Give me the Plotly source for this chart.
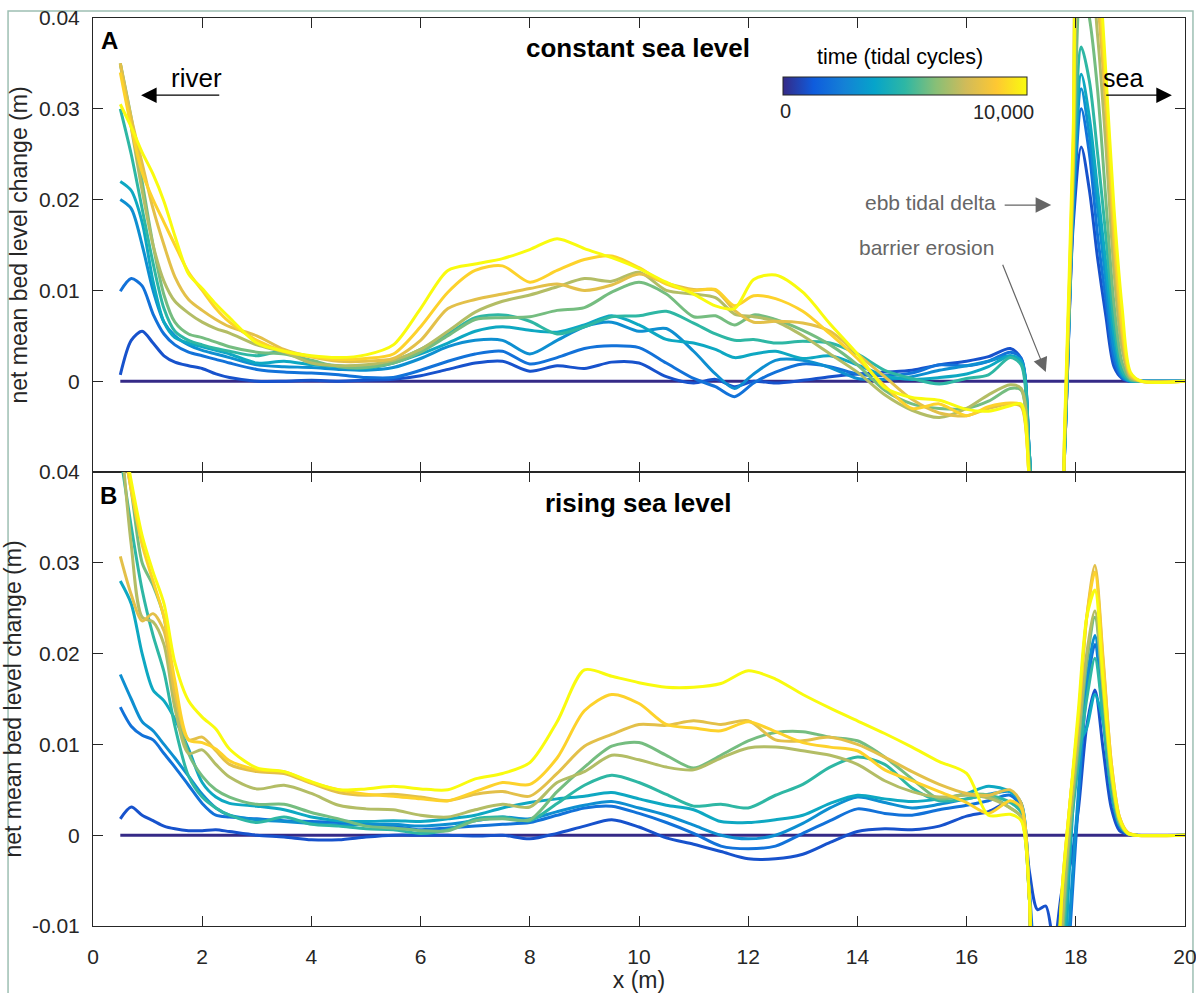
import plotly.graph_objects as go

# ---------------- data ----------------
x_a = [0.5, 0.7, 0.9, 1.1, 1.3, 1.5, 1.75, 2.0, 2.25, 2.5,
       3.0, 3.5, 4.0, 4.5, 5.0, 5.5, 6.0, 6.5, 7.0, 7.5,
       8.0, 8.5, 9.0, 9.5, 10.0, 10.5, 11.0, 11.4, 11.75, 12.1,
       12.5, 13.0, 13.5, 14.0, 14.5, 15.0, 15.5, 16.0, 16.4, 16.8,
       17.0, 17.15, 17.4, 17.6, 17.8, 17.95, 18.1, 18.25, 18.4, 18.55,
       18.7, 18.85, 19.0, 19.2, 20.0]

a1 = [0.0007, 0.0045, 0.0055, 0.0042, 0.0028, 0.0021, 0.0017, 0.0014, 0.0008, 0.0004,
      0.0000, 0.0000, 0.0001, 0.0000, 0.0001, 0.0002, 0.0006, 0.0013, 0.0020, 0.0022,
      0.0011, 0.0017, 0.0014, 0.0021, 0.0020, 0.0005, -0.0002, 0.0002, -0.0006, 0.0000,
      -0.0002, 0.0001, 0.0005, 0.0008, 0.0010, 0.0012, 0.0018, 0.0022, 0.0027, 0.0036,
      0.0025, -0.008, -0.03, -0.03, -0.007, 0.017, 0.0258, 0.021, 0.0135, 0.0072,
      0.0016, 0.0003, 0.0, 0.0, 0.0]
a2 = [0.0099, 0.0113, 0.0105, 0.0074, 0.0052, 0.0040, 0.0032, 0.0028, 0.0024, 0.0020,
      0.0013, 0.0010, 0.0009, 0.0007, 0.0004, 0.0004, 0.0012, 0.0022, 0.0030, 0.0033,
      0.0019, 0.0026, 0.0036, 0.0039, 0.0037, 0.0020, 0.0003, -0.0006, -0.0017, -0.0002,
      0.0010, 0.0019, 0.0016, 0.0008, 0.0006, 0.0009, 0.0018, 0.0017, 0.0022, 0.0032,
      0.0025, -0.008, -0.03, -0.03, -0.007, 0.018, 0.0300, 0.025, 0.016, 0.009,
      0.0025, 0.0004, 0.0, 0.0, 0.0]
a3 = [0.0200, 0.0190, 0.0150, 0.0100, 0.0065, 0.0050, 0.0040, 0.0034, 0.0030, 0.0026,
      0.0018, 0.0016, 0.0015, 0.0013, 0.0012, 0.0015, 0.0025, 0.0038, 0.0045, 0.0045,
      0.0030, 0.0045, 0.0060, 0.0065, 0.0055, 0.0058, 0.0033, 0.0008, -0.0008, 0.0008,
      0.0023, 0.0023, 0.0015, 0.0003, 0.0002, 0.0005, 0.0012, 0.0017, 0.0022, 0.0028,
      0.0022, -0.008, -0.03, -0.03, -0.007, 0.019, 0.0322, 0.027, 0.019, 0.011,
      0.0035, 0.0006, 0.0, 0.0, 0.0]
a4 = [0.0220, 0.0210, 0.0175, 0.0110, 0.0065, 0.0048, 0.0042, 0.0038, 0.0034, 0.0030,
      0.0020, 0.0022, 0.0018, 0.0016, 0.0014, 0.0020, 0.0030, 0.0042, 0.0055, 0.0060,
      0.0056, 0.0054, 0.0062, 0.0072, 0.0062, 0.0046, 0.0042, 0.0035, 0.0026, 0.0030,
      0.0033, 0.0025, 0.0028, 0.0018, 0.0006, 0.0002, 0.0004, 0.0008, 0.0016, 0.0028,
      0.0022, -0.008, -0.03, -0.03, -0.007, 0.020, 0.0338, 0.029, 0.021, 0.013,
      0.005, 0.0008, 0.0, 0.0, 0.0]
a5 = [0.0300, 0.0250, 0.0190, 0.0130, 0.0080, 0.0055, 0.0045, 0.0040, 0.0036, 0.0033,
      0.0028, 0.0033, 0.0020, 0.0017, 0.0015, 0.0022, 0.0035, 0.0052, 0.0070, 0.0073,
      0.0066, 0.0052, 0.0060, 0.0071, 0.0072, 0.0077, 0.0064, 0.0052, 0.0045, 0.0046,
      0.0042, 0.0044, 0.0042, 0.0030, 0.0012, 0.0003, -0.0003, 0.0003, 0.0007, 0.0026,
      0.0018, -0.008, -0.03, -0.03, -0.007, 0.021, 0.0368, 0.033, 0.025, 0.016,
      0.0065, 0.0012, 0.0001, 0.0, 0.0]
a6 = [0.0350, 0.0290, 0.0220, 0.0150, 0.0095, 0.0065, 0.0052, 0.0048, 0.0043, 0.0038,
      0.0032, 0.0030, 0.0023, 0.0016, 0.0015, 0.0020, 0.0032, 0.0050, 0.0068, 0.0070,
      0.0071, 0.0078, 0.0081, 0.0098, 0.0109, 0.0096, 0.0071, 0.0072, 0.0062, 0.0073,
      0.0068, 0.0056, 0.0040, 0.0018, -0.0010, -0.0025, -0.0030, -0.0030, -0.0022, -0.0008,
      -0.0010, -0.010, -0.03, -0.03, -0.006, 0.022, 0.044, 0.040, 0.032, 0.020,
      0.0085, 0.002, 0.0002, 0.0, 0.0]
a7 = [0.0350, 0.0280, 0.0210, 0.0150, 0.0110, 0.0088, 0.0075, 0.0065, 0.0058, 0.0053,
      0.0040, 0.0032, 0.0020, 0.0017, 0.0018, 0.0023, 0.0035, 0.0055, 0.0076, 0.0088,
      0.0095, 0.0104, 0.0113, 0.0110, 0.0120, 0.0100, 0.0096, 0.0092, 0.0074, 0.0071,
      0.0066, 0.0050, 0.0030, 0.0010, -0.0015, -0.0032, -0.0040, -0.0030, -0.0015, -0.0004,
      -0.0008, -0.010, -0.03, -0.03, -0.006, 0.023, 0.047, 0.046, 0.038, 0.026,
      0.012, 0.0035, 0.0004, 0.0, 0.0]
a8 = [0.0350, 0.0290, 0.0240, 0.0190, 0.0150, 0.0115, 0.0090, 0.0078, 0.0068, 0.0060,
      0.0050, 0.0035, 0.0027, 0.0022, 0.0022, 0.0025, 0.0045, 0.0080, 0.0090, 0.0096,
      0.0102, 0.0107, 0.0100, 0.0106, 0.0118, 0.0108, 0.0101, 0.0100, 0.0078, 0.0065,
      0.0066, 0.0064, 0.0055, 0.0030, 0.0005, -0.0020, -0.0035, -0.0038, -0.0030, -0.0025,
      -0.0028, -0.011, -0.03, -0.03, -0.005, 0.024, 0.050, 0.050, 0.042, 0.030,
      0.015, 0.005, 0.0006, 0.0, 0.0]
a9 = [0.0340, 0.0280, 0.0230, 0.0200, 0.0175, 0.0150, 0.0120, 0.0100, 0.0080, 0.0065,
      0.0045, 0.0033, 0.0027, 0.0024, 0.0025, 0.0030, 0.0060, 0.0098, 0.0122, 0.0127,
      0.0109, 0.0122, 0.0134, 0.0138, 0.0125, 0.0107, 0.0100, 0.0101, 0.0083, 0.0094,
      0.0091, 0.0077, 0.0052, 0.0025, -0.0005, -0.0030, -0.0025, -0.0038, -0.0028, -0.0024,
      -0.0026, -0.011, -0.03, -0.03, -0.005, 0.025, 0.052, 0.053, 0.045, 0.032,
      0.017, 0.006, 0.0008, 0.0, 0.0]
a10 = [0.0305, 0.0280, 0.0252, 0.0228, 0.0198, 0.0160, 0.0118, 0.0102, 0.0085, 0.0070,
       0.0042, 0.0033, 0.0028, 0.0026, 0.0029, 0.0040, 0.0080, 0.0122, 0.0129, 0.0135,
       0.0145, 0.0157, 0.0146, 0.0136, 0.0124, 0.0109, 0.0096, 0.0083, 0.0080, 0.0112,
       0.0117, 0.0098, 0.0063, 0.0030, -0.0007, -0.0018, -0.0021, -0.0031, -0.0033, -0.0027,
       -0.0025, -0.011, -0.03, -0.03, -0.004, 0.027, 0.055, 0.056, 0.048, 0.034,
       0.019, 0.008, 0.001, 0.0, 0.0]

x_b = [0.5, 0.7, 0.9, 1.1, 1.3, 1.5, 1.75, 2.0, 2.25, 2.5,
       3.0, 3.5, 4.0, 4.5, 5.0, 5.5, 6.0, 6.5, 7.0, 7.5,
       8.0, 8.5, 9.0, 9.5, 10.0, 10.5, 11.0, 11.5, 12.0, 12.5,
       13.0, 13.5, 14.0, 14.5, 15.0, 15.5, 16.0, 16.4, 16.8, 17.0,
       17.15, 17.3, 17.45, 17.6, 17.75, 17.9, 18.05, 18.2, 18.35, 18.5,
       18.65, 18.8, 18.95, 19.1, 20.0]

b1 = [0.0018, 0.0031, 0.0022, 0.0016, 0.0010, 0.0007, 0.0005, 0.0005, 0.0006, 0.0004,
      0.0000, -0.0002, -0.0005, -0.0005, -0.0002, 0.0000, 0.0000, 0.0000, -0.0001, 0.0000,
      -0.0004, 0.0002, 0.0010, 0.0017, 0.0009, -0.0003, -0.0010, -0.0018, -0.0026, -0.0026,
      -0.0021, -0.0008, 0.0004, 0.0007, 0.0006, 0.0010, 0.0021, 0.0026, 0.0037, 0.0030,
      -0.0040, -0.0082, -0.0078, -0.0120, -0.0060, -0.0032, 0.0030, 0.0120, 0.0160, 0.0095,
      0.0030, 0.0005, 0.0001, 0.0, 0.0]
b2 = [0.0141, 0.0120, 0.0110, 0.0105, 0.0090, 0.0075, 0.0055, 0.0035, 0.0022, 0.0020,
      0.0018, 0.0016, 0.0015, 0.0014, 0.0012, 0.0010, 0.0006, 0.0008, 0.0010, 0.0012,
      0.0014, 0.0022, 0.0030, 0.0032, 0.0024, 0.0014, 0.0002, -0.0012, -0.0015, -0.0012,
      0.0002, 0.0016, 0.0029, 0.0024, 0.0022, 0.0028, 0.0033, 0.0038, 0.0044, 0.0030,
      -0.0060, -0.0200, -0.0300, -0.0300, -0.0250, -0.0100, 0.0040, 0.0160, 0.0210, 0.0130,
      0.0045, 0.0010, 0.0002, 0.0, 0.0]
b3 = [0.0177, 0.0150, 0.0125, 0.0115, 0.0100, 0.0085, 0.0065, 0.0045, 0.0030, 0.0022,
      0.0017, 0.0015, 0.0013, 0.0011, 0.0012, 0.0012, 0.0010, 0.0012, 0.0016, 0.0020,
      0.0018, 0.0026, 0.0033, 0.0037, 0.0030, 0.0022, 0.0011, 0.0000, -0.0004, 0.0000,
      0.0013, 0.0030, 0.0042, 0.0036, 0.0030, 0.0034, 0.0040, 0.0045, 0.0048, 0.0035,
      -0.0070, -0.0300, -0.0300, -0.0300, -0.0250, -0.0080, 0.0050, 0.0170, 0.0220, 0.0140,
      0.0050, 0.0011, 0.0002, 0.0, 0.0]
b4 = [0.0280, 0.0255, 0.0200, 0.0160, 0.0148, 0.0128, 0.0095, 0.0058, 0.0042, 0.0035,
      0.0032, 0.0028, 0.0020, 0.0016, 0.0015, 0.0016, 0.0015, 0.0018, 0.0022, 0.0030,
      0.0036, 0.0040, 0.0043, 0.0047, 0.0040, 0.0033, 0.0028, 0.0015, 0.0014, 0.0017,
      0.0022, 0.0035, 0.0044, 0.0040, 0.0037, 0.0040, 0.0046, 0.0054, 0.0048, 0.0035,
      -0.0070, -0.0300, -0.0300, -0.0300, -0.0200, -0.0020, 0.0098, 0.0118, 0.0155, 0.0125,
      0.0050, 0.0012, 0.0002, 0.0, 0.0]
b5 = [0.0420, 0.0340, 0.0270, 0.0220, 0.0180, 0.0120, 0.0065, 0.0042, 0.0030, 0.0022,
      0.0014, 0.0020, 0.0012, 0.0010, 0.0007, 0.0006, 0.0002, 0.0006, 0.0018, 0.0020,
      0.0016, 0.0035, 0.0055, 0.0066, 0.0058, 0.0045, 0.0032, 0.0034, 0.0030, 0.0044,
      0.0056, 0.0075, 0.0086, 0.0078, 0.0052, 0.0038, 0.0040, 0.0044, 0.0036, 0.0025,
      -0.0070, -0.0300, -0.0300, -0.0300, -0.0150, 0.0000, 0.0080, 0.0150, 0.0195, 0.0130,
      0.0050, 0.0012, 0.0002, 0.0, 0.0]
b6 = [0.0450, 0.0380, 0.0300, 0.0275, 0.0240, 0.0150, 0.0090, 0.0065, 0.0050, 0.0042,
      0.0034, 0.0034, 0.0025, 0.0018, 0.0010, 0.0008, 0.0005, 0.0005, 0.0016, 0.0018,
      0.0017, 0.0048, 0.0075, 0.0098, 0.0102, 0.0088, 0.0074, 0.0088, 0.0104, 0.0113,
      0.0114, 0.0108, 0.0104, 0.0086, 0.0062, 0.0040, 0.0045, 0.0044, 0.0030, 0.0020,
      -0.0070, -0.0300, -0.0300, -0.0300, -0.0120, 0.0010, 0.0100, 0.0190, 0.0240, 0.0160,
      0.0065, 0.0015, 0.0002, 0.0, 0.0]
b7 = [0.0450, 0.0320, 0.0240, 0.0235, 0.0210, 0.0140, 0.0090, 0.0094, 0.0078, 0.0064,
      0.0051, 0.0055, 0.0046, 0.0033, 0.0029, 0.0028, 0.0022, 0.0020, 0.0028, 0.0034,
      0.0031, 0.0058, 0.0070, 0.0088, 0.0083, 0.0075, 0.0072, 0.0085, 0.0096, 0.0097,
      0.0093, 0.0088, 0.0078, 0.0060, 0.0048, 0.0042, 0.0044, 0.0041, 0.0030, 0.0020,
      -0.0070, -0.0300, -0.0300, -0.0300, -0.0100, 0.0020, 0.0110, 0.0200, 0.0247, 0.0160,
      0.0065, 0.0015, 0.0002, 0.0, 0.0]
b8 = [0.0307, 0.0265, 0.0236, 0.0244, 0.0225, 0.0155, 0.0105, 0.0108, 0.0093, 0.0078,
      0.0070, 0.0068, 0.0057, 0.0047, 0.0044, 0.0045, 0.0042, 0.0038, 0.0045, 0.0048,
      0.0043, 0.0068, 0.0098, 0.0111, 0.0122, 0.0121, 0.0126, 0.0122, 0.0126, 0.0105,
      0.0104, 0.0108, 0.0100, 0.0086, 0.0070, 0.0056, 0.0046, 0.0044, 0.0050, 0.0035,
      -0.0070, -0.0300, -0.0300, -0.0250, -0.0060, 0.0040, 0.0130, 0.0240, 0.0297, 0.0195,
      0.0080, 0.0020, 0.0003, 0.0, 0.0]
b9 = [0.0450, 0.0380, 0.0320, 0.0280, 0.0240, 0.0170, 0.0105, 0.0102, 0.0095, 0.0082,
      0.0072, 0.0070, 0.0058, 0.0050, 0.0045, 0.0043, 0.0040, 0.0038, 0.0048, 0.0058,
      0.0056, 0.0085, 0.0137, 0.0155, 0.0145, 0.0122, 0.0118, 0.0115, 0.0125, 0.0114,
      0.0102, 0.0097, 0.0093, 0.0072, 0.0060, 0.0048, 0.0036, 0.0024, 0.0038, 0.0030,
      -0.0070, -0.0300, -0.0300, -0.0250, -0.0060, 0.0040, 0.0130, 0.0240, 0.0290, 0.0190,
      0.0080, 0.0020, 0.0003, 0.0, 0.0]
b10 = [0.0460, 0.0390, 0.0330, 0.0290, 0.0255, 0.0190, 0.0148, 0.0130, 0.0117, 0.0095,
       0.0074, 0.0070, 0.0059, 0.0050, 0.0051, 0.0054, 0.0051, 0.0050, 0.0062, 0.0068,
       0.0080, 0.0125, 0.0182, 0.0175, 0.0168, 0.0163, 0.0163, 0.0167, 0.0181, 0.0172,
       0.0155, 0.0140, 0.0126, 0.0112, 0.0097, 0.0081, 0.0068, 0.0022, 0.0023, 0.0016,
       -0.0070, -0.0300, -0.0300, -0.0200, -0.0060, 0.0040, 0.0140, 0.0240, 0.0270, 0.0170,
       0.0072, 0.0018, 0.0002, 0.0, 0.0]

times = [1000, 2000, 3000, 4000, 5000, 6000, 7000, 8000, 9000, 10000]
curves_a = [a1, a2, a3, a4, a5, a6, a7, a8, a9, a10]
curves_b = [b1, b2, b3, b4, b5, b6, b7, b8, b9, b10]
baseline_x = [0.5, 20.0]
baseline_y = [0.0, 0.0]

x_ticks = [0, 2, 4, 6, 8, 10, 12, 14, 16, 18, 20]
ya_ticks = [0, 0.01, 0.02, 0.03, 0.04]
ya_text = ["0", "0.01", "0.02", "0.03", "0.04"]
yb_ticks = [-0.01, 0, 0.01, 0.02, 0.03, 0.04]
yb_text = ["-0.01", "0", "0.01", "0.02", "0.03", "0.04"]

for c in curves_a:
    assert len(c) == len(x_a)
for c in curves_b:
    assert len(c) == len(x_b)

# ---------------- style ----------------
parula_hex = ['#352a87', '#0f5cdd', '#1481d6', '#06a4ca', '#2eb7a4',
              '#87bf77', '#d1bb59', '#fec832', '#f9fb0e']
n = len(parula_hex)
parula_scale = [[i / (n - 1), c] for i, c in enumerate(parula_hex)]


def hex2rgb(h):
    h = h.lstrip('#')
    return [int(h[i:i + 2], 16) for i in (0, 2, 4)]


def parula(t):
    t = min(max(t, 0.0), 1.0)
    pos = t * (n - 1)
    i = min(int(pos), n - 2)
    f = pos - i
    c0, c1 = hex2rgb(parula_hex[i]), hex2rgb(parula_hex[i + 1])
    c = [round(c0[k] + (c1[k] - c0[k]) * f) for k in range(3)]
    return 'rgb(%d,%d,%d)' % tuple(c)


FONT = "Arial, Liberation Sans, Helvetica, sans-serif"
INK = '#262626'
LW = 3.0

fig = go.Figure()

for (xr, yr, curves) in [('x', 'y', curves_a), ('x2', 'y2', curves_b)]:
    xs = x_a if xr == 'x' else x_b
    fig.add_trace(go.Scatter(x=baseline_x, y=baseline_y, xaxis=xr, yaxis=yr, mode='lines',
                             line=dict(color=parula(0), width=LW), showlegend=False,
                             hoverinfo='skip'))
    for t, ys in zip(times, curves):
        fig.add_trace(go.Scatter(x=xs, y=ys, xaxis=xr, yaxis=yr, mode='lines',
                                 line=dict(color=parula(t / 10000), width=LW,
                                           shape='spline', smoothing=0.8),
                                 showlegend=False, hoverinfo='skip'))

# colorbar carrier (hidden marker outside range)
fig.add_trace(go.Scatter(
    x=[-5, -5], y=[0, 0], xaxis='x', yaxis='y', mode='markers',
    marker=dict(color=[0, 10000], colorscale=parula_scale, cmin=0, cmax=10000,
                size=1, opacity=0, showscale=True,
                colorbar=dict(orientation='h', x=0.6319, xanchor='left',
                              y=0.9141, yanchor='bottom', len=244, lenmode='pixels',
                              thickness=18, thicknessmode='pixels',
                              outlinecolor=INK, outlinewidth=1,
                              showticklabels=False, ticks='', xpad=0, ypad=0)),
    showlegend=False, hoverinfo='skip'))

axis_common = dict(showgrid=False, zeroline=False, showline=True, linecolor=INK,
                   linewidth=1, mirror='ticks', ticks='inside', ticklen=10,
                   tickcolor=INK, tickwidth=1, automargin=False,
                   ticklabeloverflow='allow',
                   tickfont=dict(family=FONT, size=21, color=INK))

fig.update_layout(
    width=1196, height=993, autosize=False,
    margin=dict(l=93, r=11, t=18, b=67, pad=0, autoexpand=False),
    paper_bgcolor='white', plot_bgcolor='white',
    xaxis=dict(domain=[0, 1], anchor='y', range=[0, 20], tickvals=x_ticks,
               showticklabels=False, **axis_common),
    yaxis=dict(domain=[0.5, 1], anchor='x', range=[-0.01, 0.04], tickvals=ya_ticks,
               ticktext=ya_text, ticklabelstandoff=8,
               title=dict(text='net mean bed level change (m)', standoff=4,
                          font=dict(family=FONT, size=23, color=INK)),
               **axis_common),
    xaxis2=dict(domain=[0, 1], anchor='y2', range=[0, 20], tickvals=x_ticks,
                ticktext=[str(v) for v in x_ticks], ticklabelstandoff=12,
                title=dict(text='x (m)', standoff=8,
                           font=dict(family=FONT, size=23, color=INK)),
                **axis_common),
    yaxis2=dict(domain=[0, 0.5], anchor='x2', range=[-0.01, 0.04], tickvals=yb_ticks,
                ticktext=yb_text, ticklabelstandoff=8,
                title=dict(text='net mean bed level change (m)', standoff=4,
                           font=dict(family=FONT, size=23, color=INK)),
                **axis_common),
)

ann = []


def txt(x, y, s, size, color='black', bold=False, xref='x', yref='y'):
    ann.append(dict(x=x, y=y, xref=xref, yref=yref, text=('<b>%s</b>' % s) if bold else s,
                    showarrow=False, xanchor='center', yanchor='middle',
                    font=dict(family=FONT, size=size, color=color)))


def arrow(x0, y0, x1, y1, color, width, size, head=2, xref='x', yref='y'):
    ann.append(dict(x=x1, y=y1, ax=x0, ay=y0, xref=xref, yref=yref, axref=xref, ayref=yref,
                    text='', showarrow=True, arrowhead=head, arrowsize=size,
                    arrowwidth=width, arrowcolor=color, standoff=0, startstandoff=0))


txt(0.31, 0.0375, 'A', 24, bold=True)
txt(0.29, 0.0374, 'B', 24, bold=True, xref='x2', yref='y2')
txt(9.98, 0.0367, 'constant sea level', 26, bold=True)
txt(9.98, 0.0366, 'rising sea level', 26, bold=True, xref='x2', yref='y2')
txt(1.89, 0.0334, 'river', 26)
arrow(2.34, 0.0315, 0.88, 0.0315, 'black', 1.3, 2.4)
txt(18.86, 0.0334, 'sea', 25)
arrow(18.53, 0.0315, 19.76, 0.0315, 'black', 1.3, 2.4)
txt(15.33, 0.0197, 'ebb tidal delta', 21, color='#666666')
arrow(16.67, 0.0194, 17.55, 0.0194, '#666666', 1.3, 2.4)
txt(15.27, 0.0147, 'barrier erosion', 21, color='#666666')
arrow(16.65, 0.0130, 17.45, 0.0010, '#666666', 1.2, 2.4)
txt(14.78, 0.0357, 'time (tidal cycles)', 21.5)
txt(12.69, 0.0298, '0', 20, color=INK)
txt(16.68, 0.0297, '10,000', 20, color=INK)

fig.update_layout(annotations=ann)

fig.add_shape(type='rect', xref='paper', yref='paper', x0=-0.0778, x1=1.0073,
              y0=-0.12, y1=1.0077, line=dict(color='#9dbfb3', width=1.5),
              fillcolor='rgba(0,0,0,0)', layer='below')

fig.write_html(
    "out.html",
    config={'displayModeBar': False, 'staticPlot': True, 'responsive': False},
    post_script=("document.documentElement.style.overflow='hidden';"
                 "document.body.style.overflow='hidden';"
                 "document.body.style.margin='0';document.body.style.padding='0';"))
